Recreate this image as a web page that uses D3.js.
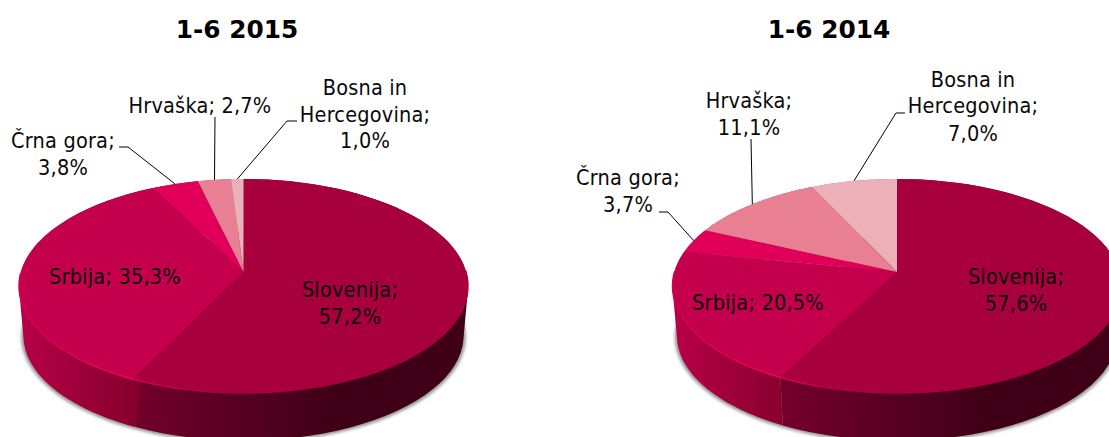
<!DOCTYPE html>
<html><head><meta charset="utf-8">
<script src="https://cdn.jsdelivr.net/npm/d3@7"></script>
<style>
html,body{margin:0;padding:0;background:#fff;overflow:hidden}
svg{display:block}
text{font-family:"DejaVu Sans Condensed","DejaVu Sans",sans-serif;font-stretch:condensed;font-size:21.5px;letter-spacing:0.2px;fill:#0a0a0a}
.title{font-family:"DejaVu Sans",sans-serif;font-stretch:normal;letter-spacing:0;font-weight:700;font-size:24.8px;fill:#000}
</style></head><body>
<svg id="c" width="1109" height="437"></svg>
<script>
const categories = ["Slovenija","Srbija","Črna gora","Hrvaška","Bosna in Hercegovina"];
const values2015 = [57.2,35.3,3.8,2.7,1.0];
const values2014 = [57.6,20.5,3.7,11.1,7.0];
const topColors = ["#a8003c","#c4004c","#e0005a","#e87f93","#ecb0b8"];
const sideColors = [["#72002a","#3f0017"],["#b80048","#85002c"],["#a8003c","#900030"],["#a8506a","#a05060"],["#a87a84","#a07078"]];
const rimColors = [["#d80056","#a8003c"],["#d4004f","#f50062"]];

// Label layout: [line, x, baseline] per slice
const layout2015 = [
 [["Slovenija;",350,297],["57,2%",350,324]],
 [["Srbija; 35,3%",115,284]],
 [["Črna gora;",63,148],["3,8%",63,175]],
 [["Hrvaška; 2,7%",200,113]],
 [["Bosna in",365,95],["Hercegovina;",365,122],["1,0%",365,148]]
];
const layout2014 = [
 [["Slovenija;",1016,284],["57,6%",1016,311]],
 [["Srbija; 20,5%",758,310]],
 [["Črna gora;",628,185],["3,7%",628,212]],
 [["Hrvaška;",749,108],["11,1%",749,135]],
 [["Bosna in",973,87],["Hercegovina;",973,113],["7,0%",973,141]]
];
// Leader polylines: label-side points; the last point is taken from the slice itself
const leaders2015 = [null,null,[[119,147],[128,147]],[[215,117]],[[297,121],[287,121]]];
const leaders2014 = [null,null,[[659,212],[668,212]],[[751,139]],[[905,113],[896,113]]];

const svg = d3.select("#c");
const defs = svg.append("defs");
const blur = defs.append("filter").attr("id","soft").attr("x","-10%").attr("y","-10%").attr("width","120%").attr("height","120%");
blur.append("feGaussianBlur").attr("stdDeviation",1.8);

const R = 222.6, K = 0.131, A = 105.2, APEX_Y = 272, DEPTH = 50, BOTTOM_SCALE = 0.98;
const line = d3.line();

function gradient(id,x1,x2,colors){
  const gr = defs.append("linearGradient").attr("id",id).attr("gradientUnits","userSpaceOnUse")
    .attr("x1",x1).attr("x2",x2).attr("y1",0).attr("y2",0);
  gr.append("stop").attr("offset",0).attr("stop-color",colors[0]);
  gr.append("stop").attr("offset",1).attr("stop-color",colors[1]);
  return `url(#${id})`;
}

function drawPie(id, cx, title, titleX, values, layout, leaders){
  const g = svg.append("g");
  const project = (ang, s=1, dy=0) => {
    const u = Math.sin(ang), t = -Math.cos(ang), w = 1/(1 - K*t);
    return [cx + s*R*u*w, APEX_Y + dy + s*A*t*w];
  };
  const arcs = d3.pie().sort(null).value(d=>d)(values);
  const samples = a => d3.range(0,61).map(i=>a.startAngle + (a.endAngle-a.startAngle)*i/60);

  // soft shadow of the body
  const full = d3.range(0,121).map(i=>project(i/120*2*Math.PI,0.99,DEPTH+1));
  g.append("path").attr("d",line(full)+"Z").attr("fill","#555").attr("opacity",0.6).attr("filter","url(#soft)");

  // side walls: convex hull of the slice's top and bottom rims (the top face hides the rest)
  arcs.forEach((a,i)=>{
    const ang = samples(a);
    const fill = i===0 ? gradient(id+"side0",cx-107,cx+90,sideColors[0])
               : i===1 ? gradient(id+"side1",cx-225,cx-107,sideColors[1])
               : gradient(id+"side"+i,cx-225,cx,sideColors[i]);
    const hull = d3.polygonHull(ang.map(x=>project(x)).concat(ang.map(x=>project(x,BOTTOM_SCALE,DEPTH))));
    g.append("path").attr("d",line(hull)+"Z").attr("fill",fill);
  });

  // top face
  arcs.forEach((a,i)=>{
    const pts = samples(a).map(x=>project(x));
    pts.push([cx,APEX_Y]);
    g.append("path").attr("d",line(pts)+"Z").attr("fill",topColors[i]);
  });

  // bright rim along the front edge
  const rim = [gradient(id+"rim0",cx-107,cx-30,rimColors[0]),gradient(id+"rim1",cx-225,cx-107,rimColors[1])];
  arcs.slice(0,2).forEach((a,i)=>{
    const ang = samples(a).filter(x=>Math.cos(x)<0.02);
    g.append("path").attr("d",line(ang.map(x=>project(x))))
      .attr("fill","none").attr("stroke",rim[i]).attr("stroke-width",1.4);
  });

  // leaders
  leaders.forEach((l,i)=>{
    if(!l) return;
    const a = arcs[i], p = project((a.startAngle+a.endAngle)/2);
    g.append("path").attr("d",line(l.concat([p]))).attr("fill","none").attr("stroke","#000").attr("stroke-width",1);
  });

  // labels
  layout.forEach(lines=>lines.forEach(([s,x,y])=>{
    g.append("text").attr("x",x).attr("y",y).attr("text-anchor","middle").text(s);
  }));
  g.append("text").attr("class","title").attr("x",titleX).attr("y",38).attr("text-anchor","middle").text(title);
}
drawPie("a",243.5,"1-6 2015",237,values2015,layout2015,leaders2015);
drawPie("b",897,"1-6 2014",829,values2014,layout2014,leaders2014);
</script></body></html>
